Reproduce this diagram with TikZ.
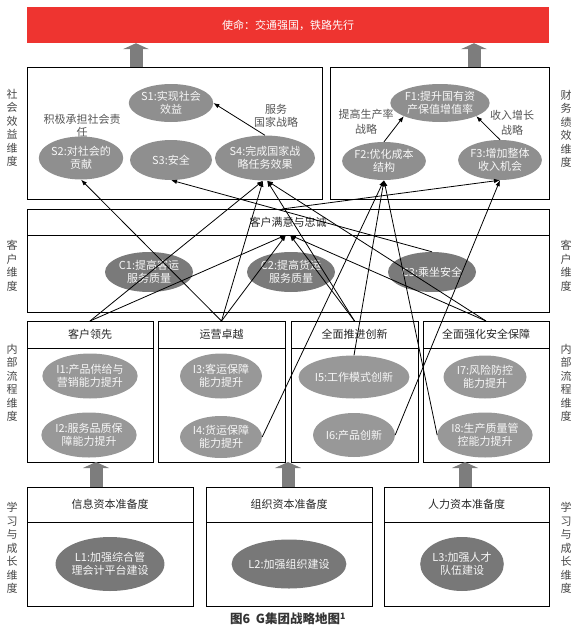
\documentclass[tikz,border=0pt]{standalone}
\usepackage{fontspec}
\setmainfont{Noto Sans CJK SC}
\usetikzlibrary{shapes.geometric,arrows.meta}
\definecolor{missionred}{RGB}{238,52,48}
\definecolor{ellS}{RGB}{143,143,143}
\definecolor{ellI}{RGB}{152,152,152}
\definecolor{ellC}{RGB}{122,122,122}
\definecolor{ellL}{RGB}{120,120,120}
\definecolor{blockgray}{RGB}{125,125,125}
\definecolor{sidetext}{RGB}{70,70,70}
\definecolor{notetext}{RGB}{85,85,85}
\begin{document}
\begin{tikzpicture}[x=1pt,y=-1pt,
  frame/.style={draw=black,line width=1pt,inner sep=0pt,outer sep=0pt},
  hdr/.style={frame,font=\fontsize{11}{13}\selectfont,text=black!85},
  ell/.style={ellipse,inner sep=0pt,align=center,text=white!94!gray,font=\fontsize{11}{13}\selectfont},
  side/.style={align=center,text=sidetext,font=\fontsize{11}{13.5}\selectfont,inner sep=0pt},
  note/.style={align=center,text=notetext,font=\fontsize{11}{13}\selectfont,inner sep=0pt},
  conn/.style={draw=black,line width=0.8pt,-{Latex[length=6pt,width=4.5pt]}},
  blk/.style={draw=blockgray,line width=13pt,-{Triangle[width=26pt,length=6pt]}}
]
\useasboundingbox (0,0) rectangle (581,632);

% mission
\node[fill=missionred,minimum width=522pt,minimum height=36pt,inner sep=0pt,text=white,font=\fontsize{11}{13}\selectfont] (mission) at (288,25) {使命：交通强国，铁路先行};

% perspective boxes
\node[frame,minimum width=295pt,minimum height=132pt] (soc) at (174.5,133) {};
\node[frame,minimum width=219pt,minimum height=132pt] (fin) at (439.5,133) {};
\node[hdr,minimum width=522pt,minimum height=26pt] (chead) at (288,222) {客户满意与忠诚};
\node[frame,minimum width=522pt,minimum height=77pt] (cbody) at (288,273.5) {};

\node[hdr,minimum width=126pt,minimum height=27pt] (ih1) at (90,334.5) {客户领先};
\node[frame,minimum width=126pt,minimum height=114pt] (ib1) at (90,405) {};
\node[hdr,minimum width=127pt,minimum height=27pt] (ih2) at (221.5,334.5) {运营卓越};
\node[frame,minimum width=127pt,minimum height=114pt] (ib2) at (221.5,405) {};
\node[hdr,minimum width=127pt,minimum height=27pt] (ih3) at (354.5,334.5) {全面推进创新};
\node[frame,minimum width=127pt,minimum height=114pt] (ib3) at (354.5,405) {};
\node[hdr,minimum width=126pt,minimum height=27pt] (ih4) at (486,334.5) {全面强化安全保障};
\node[frame,minimum width=126pt,minimum height=114pt] (ib4) at (486,405) {};

\node[hdr,minimum width=166pt,minimum height=35pt] (lh1) at (110,504.5) {信息资本准备度};
\node[frame,minimum width=166pt,minimum height=84pt] (lb1) at (110,564) {};
\node[hdr,minimum width=166pt,minimum height=35pt] (lh2) at (289,504.5) {组织资本准备度};
\node[frame,minimum width=166pt,minimum height=84pt] (lb2) at (289,564) {};
\node[hdr,minimum width=165pt,minimum height=35pt] (lh3) at (466.5,504.5) {人力资本准备度};
\node[frame,minimum width=165pt,minimum height=84pt] (lb3) at (466.5,564) {};

% block arrows
\coordinate (ta1) at ([xshift=-38.5pt]soc.north);
\coordinate (ta2) at ([xshift=34.5pt]fin.north);
\draw[blk] (ta1) -- (ta1 |- mission.south);
\draw[blk] (ta2) -- (ta2 |- mission.south);
\coordinate (ba1) at ([xshift=-14pt]lh1.north);
\coordinate (ba2) at ([xshift=-1pt]lh2.north);
\coordinate (ba3) at ([xshift=-1.5pt]lh3.north);
\draw[blk] (ba1) -- (ba1 |- ib1.south);
\draw[blk] (ba2) -- (ba2 |- ib2.south);
\draw[blk] (ba3) -- (ba3 |- ib4.south);

% side labels
\node[side] (sl1) at (12,128) {社\\会\\效\\益\\维\\度};
\node[side] (sr1) at (566,129) {财\\务\\绩\\效\\维\\度};
\node[side] (sl2) at (12,266) {客\\户\\维\\度};
\node[side] (sr2) at (566,266) {客\\户\\维\\度};
\node[side] (sl3) at (12,383) {内\\部\\流\\程\\维\\度};
\node[side] (sr3) at (566,383) {内\\部\\流\\程\\维\\度};
\node[side] (sl4) at (12,548) {学\\习\\与\\成\\长\\维\\度};
\node[side] (sr4) at (566,548) {学\\习\\与\\成\\长\\维\\度};

% notes
\node[note,font=\fontsize{11}{12.5}\selectfont] (n1) at (82,126) {积极承担社会责\\任};
\node[note] (n2) at (276,115.5) {服务\\国家战略};
\node[note,font=\fontsize{11}{15}\selectfont] (n3) at (366,121.5) {提高生产率\\战略};
\node[note,font=\fontsize{11}{15}\selectfont] (n4) at (512,122.5) {收入增长\\战略};

% social
\node[ell,fill=ellS,minimum width=82pt,minimum height=38pt] (S1) at (171,103) {S1:实现社会\\效益};
\node[ell,fill=ellS,minimum width=82pt,minimum height=43pt] (S2) at (81,158) {S2:对社会的\\贡献};
\node[ell,fill=ellS,minimum width=82pt,minimum height=40pt] (S3) at (171,160) {S3:安全};
\node[ell,fill=ellS,minimum width=82pt,minimum height=45pt] (S4) at (265,158) {S4:完成国家战\\略任务效果};
% financial
\node[ell,fill=ellS,minimum width=80pt,minimum height=38pt] (F1) at (440,103) {F1:提升国有资\\产保值增值率};
\node[ell,fill=ellS,minimum width=82pt,minimum height=38pt] (F2) at (384,161) {F2:优化成本\\结构};
\node[ell,fill=ellS,minimum width=80pt,minimum height=40pt] (F3) at (500,160) {F3:增加整体\\收入机会};
% customer
\node[ell,fill=ellC,minimum width=88pt,minimum height=40pt] (C1) at (149,272) {C1:提高客运\\服务质量};
\node[ell,fill=ellC,minimum width=88pt,minimum height=40pt] (C2) at (291,272) {C2:提高货运\\服务质量};
\node[ell,fill=ellC,minimum width=88pt,minimum height=40pt] (C3) at (432,272) {C3:乘坐安全};
% internal
\node[ell,fill=ellI,minimum width=80pt,minimum height=45pt] (I1) at (90,376) {I1:产品供给与\\营销能力提升};
\node[ell,fill=ellI,minimum width=82pt,minimum height=45pt] (I2) at (89,435) {I2:服务品质保\\障能力提升};
\node[ell,fill=ellI,minimum width=82pt,minimum height=45pt] (I3) at (221,376) {I3:客运保障\\能力提升};
\node[ell,fill=ellI,minimum width=82pt,minimum height=42pt] (I4) at (221,437) {I4:货运保障\\能力提升};
\node[ell,fill=ellI,minimum width=82pt,minimum height=43pt] (I5) at (354,377) {I5:工作模式创新};
\node[ell,fill=ellI,minimum width=82pt,minimum height=44pt] (I6) at (354,435) {I6:产品创新};
\node[ell,fill=ellI,minimum width=83pt,minimum height=43pt] (I7) at (485,377) {I7:风险防控\\能力提升};
\node[ell,fill=ellI,minimum width=83pt,minimum height=45pt] (I8) at (485,435) {I8:生产质量管\\控能力提升};
% learning
\node[ell,fill=ellL,minimum width=97pt,minimum height=54pt] (L1) at (110,564) {L1:加强综合管\\理会计平台建设};
\node[ell,fill=ellL,minimum width=93pt,minimum height=49pt] (L2) at (289,564) {L2:加强组织建设};
\node[ell,fill=ellL,minimum width=80pt,minimum height=54pt] (L3) at (462,564) {L3:加强人才\\队伍建设};

% caption
\node[font=\bfseries\fontsize{12.5}{14}\selectfont,text=black!80,inner sep=0pt] (cap) at (288,619) {图6\ \ G集团战略地图\textsuperscript{1}};

% connectors
\draw[conn] (ih1.north) -- ([xshift=-2pt]S4.south);
\draw[conn] (ih1.north) -- ([xshift=-2pt]chead.south);
\draw[conn] (ih2.north) -- (S2.south);
\draw[conn] (ih2.north) -- ([xshift=-2pt]S4.south);
\draw[conn] (ih2.north) -- ([xshift=-2pt]chead.south);
\draw[conn] (ih3.north) -- ([xshift=2pt]S4.south);
\draw[conn] (ih3.north) -- ([xshift=2pt]chead.south);
\draw[conn] (ih4.north) -- ([xshift=2pt]S4.south);
\draw[conn] (ih4.north) -- ([xshift=2pt]chead.south);
\draw[conn] (C3.north) -- (S3.south);
\draw[conn] ([xshift=-6pt]chead.north) -- (F3.south);
\draw[conn] (I4.east) -- (F2.south);
\draw[conn] (I5.north) -- (F2.south);
\draw[conn] (I8.west) -- (F2.south);
\draw[conn] (I6.east) -- (F3.south);
\draw[conn] (S4.north) -- (S1.east);
\draw[conn] (F2.north) -- (F1.200);
\draw[conn] (F3.north) -- (F1.-20);
\end{tikzpicture}
\end{document}
